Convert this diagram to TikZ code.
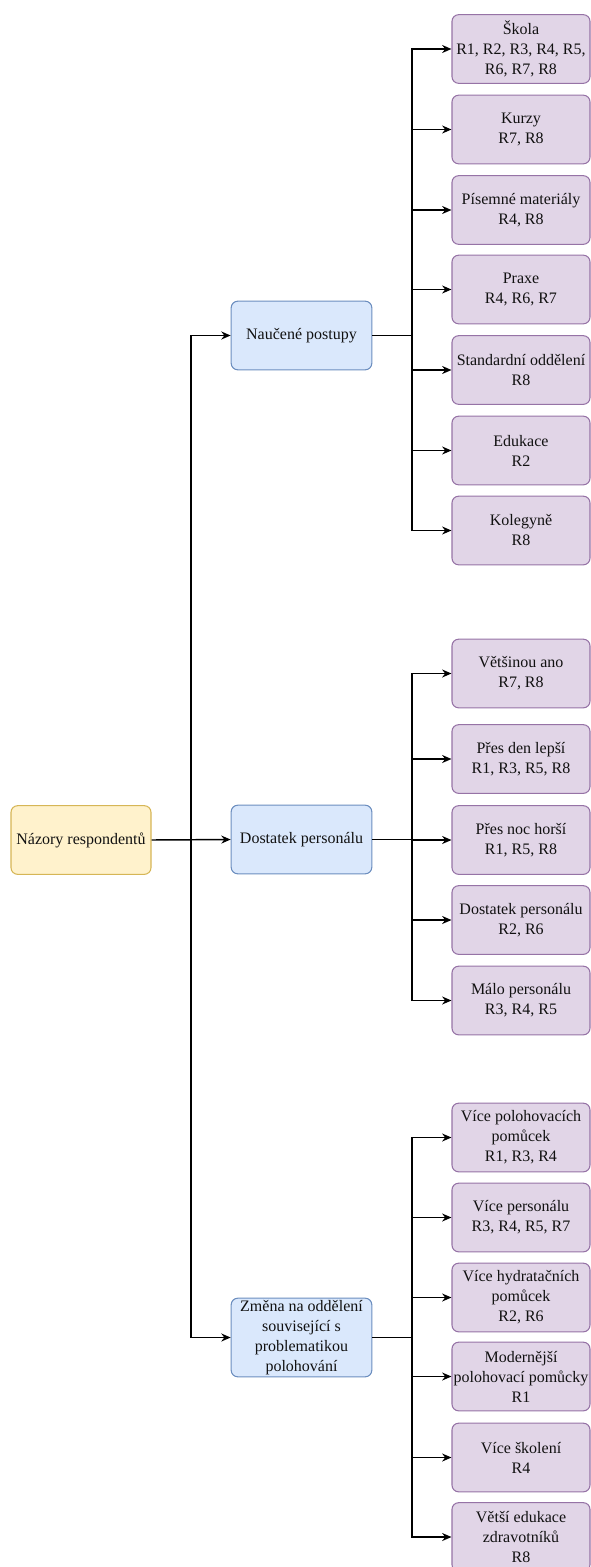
\documentclass[tikz,border=0pt]{standalone}
\usepackage{fontspec}
\setmainfont{Liberation Serif}
\usetikzlibrary{arrows.meta}
\definecolor{yfill}{HTML}{FFF2CC}\definecolor{ydraw}{HTML}{D6B656}
\definecolor{bfill}{HTML}{DAE8FC}\definecolor{bdraw}{HTML}{6C8EBF}
\definecolor{pfill}{HTML}{E1D5E7}\definecolor{pdraw}{HTML}{9673A6}
\definecolor{txt}{HTML}{111111}
\begin{document}
\begin{tikzpicture}[x=0.75pt,y=-0.75pt,
  box/.style={rounded corners=5pt,line width=0.8pt,align=center,inner sep=0.5pt,
    font=\rmfamily\fontsize{12pt}{15pt}\selectfont,text=txt,minimum height=51.5pt},
  rootbox/.style={box,fill=yfill,draw=ydraw,minimum width=105pt},
  midbox/.style={box,fill=bfill,draw=bdraw,minimum width=105.5pt},
  leafbox/.style={box,fill=pfill,draw=pdraw,minimum width=103.5pt},
  conn/.style={line width=1.1pt,draw=black},
  arr/.style={conn,-{Stealth[length=7pt,width=6pt]}}]
\useasboundingbox (0,0) rectangle (591,1567);
% root
\node[rootbox] (root) at (81,840) {Názory respondentů};
% middle
\node[midbox] (n1) at (301.5,335.5) {Naučené postupy};
\node[midbox] (n2) at (301.5,839.5) {Dostatek personálu};
\node[midbox,minimum height=59pt] (n3) at (301.5,1337.5) {Změna na oddělení\\související s\\problematikou\\polohování};
% leaves group 1
\node[leafbox] (a1) at (521,49) {Škola\\R1, R2, R3, R4, R5,\\R6, R7, R8};
\node[leafbox] (a2) at (521,129.5) {Kurzy\\R7, R8};
\node[leafbox] (a3) at (521,210) {Písemné materiály\\R4, R8};
\node[leafbox] (a4) at (521,289.5) {Praxe\\R4, R6, R7};
\node[leafbox] (a5) at (521,370) {Standardní oddělení\\R8};
\node[leafbox] (a6) at (521,450.5) {Edukace\\R2};
\node[leafbox] (a7) at (521,530.5) {Kolegyně\\R8};
% leaves group 2
\node[leafbox] (b1) at (521,673.5) {Většinou ano\\R7, R8};
\node[leafbox] (b2) at (521,759) {Přes den lepší\\R1, R3, R5, R8};
\node[leafbox] (b3) at (521,840) {Přes noc horší\\R1, R5, R8};
\node[leafbox] (b4) at (521,920) {Dostatek personálu\\R2, R6};
\node[leafbox] (b5) at (521,1000.5) {Málo personálu\\R3, R4, R5};
% leaves group 3
\node[leafbox] (c1) at (521,1137.5) {Více polohovacích\\pomůcek\\R1, R3, R4};
\node[leafbox] (c2) at (521,1217.5) {Více personálu\\R3, R4, R5, R7};
\node[leafbox] (c3) at (521,1297.5) {Více hydratačních\\pomůcek\\R2, R6};
\node[leafbox] (c4) at (521,1376.5) {Modernější\\polohovací pomůcky\\R1};
\node[leafbox] (c5) at (521,1457.5) {Více školení\\R4};
\node[leafbox] (c6) at (521,1537) {Větší edukace\\zdravotníků\\R8};
% junctions
\coordinate (jm) at (191,840);
\coordinate (j1) at (412,335.5);
\coordinate (j2) at (412,839.5);
\coordinate (j3) at (412,1337.5);
% root connectors
\draw[arr] (root.east) -- (n2.west);
\draw[arr] (jm) |- (n1.west);
\draw[arr] (jm) |- (n3.west);
% group 1
\draw[conn] (n1.east) -- (j1);
\foreach \t in {a1,a2,a3,a4,a5,a6,a7} \draw[arr] (j1) |- (\t.west);
% group 2
\draw[conn] (n2.east) -- (j2);
\foreach \t in {b1,b2,b3,b4,b5} \draw[arr] (j2) |- (\t.west);
% group 3
\draw[conn] (n3.east) -- (j3);
\foreach \t in {c1,c2,c3,c4,c5,c6} \draw[arr] (j3) |- (\t.west);
\end{tikzpicture}
\end{document}
